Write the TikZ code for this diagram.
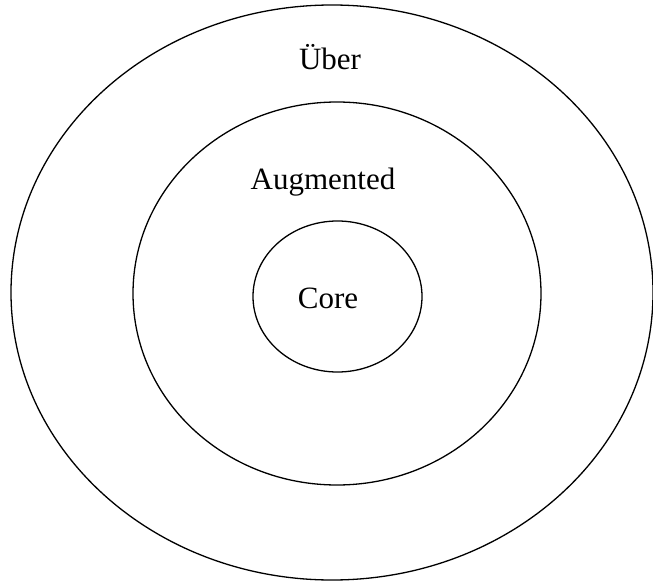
\documentclass[tikz,border=0pt]{standalone}
\usepackage{fontspec}
\setmainfont{Liberation Serif}
\begin{document}
\begin{tikzpicture}[x=1pt,y=-1pt,
  ring/.style={draw=black,line width=1.3pt},
  lbl/.style={anchor=base,inner sep=0pt,font=\fontsize{31}{36}\selectfont}]
\useasboundingbox (0,0) rectangle (653,586);
% concentric rings
\draw[ring] (332,292.5) ellipse [x radius=321,y radius=287.5];
\draw[ring] (337,293.5) ellipse [x radius=204,y radius=191.5];
\draw[ring] (337.5,296.5) ellipse [x radius=84.5,y radius=75.5];
% labels
\node[lbl] (uber) at (330,70) {Über};
\node[lbl] (aug) at (323,189) {Augmented};
\node[lbl] (core) at (328,308) {Core};
\end{tikzpicture}
\end{document}
